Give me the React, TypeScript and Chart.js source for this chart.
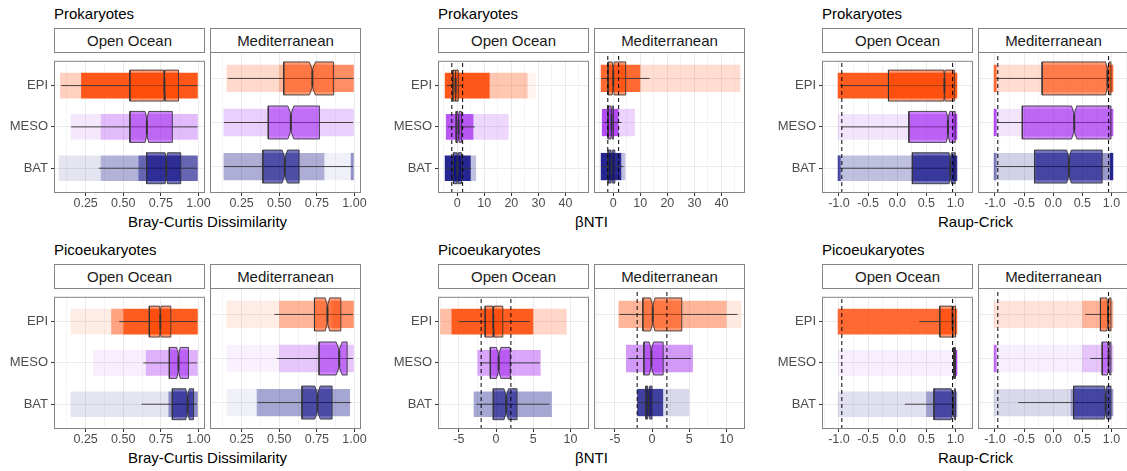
import React, { useEffect, useRef } from "react";
import { Chart, registerables } from "chart.js";
Chart.register(...registerables);

const FONT = "'Liberation Sans', Arial, Helvetica, sans-serif";

// ---------- categories ----------
const groups = ["EPI", "MESO", "BAT"];
const groupColors = ["#FF4500", "#A020F0", "#000080"];
const regions = ["Open Ocean", "Mediterranean"];
const taxa = ["Prokaryotes", "Picoeukaryotes"];
const metricTitles = ["Bray-Curtis Dissimilarity", "βNTI", "Raup-Crick"];

// ---------- axes ----------
const bcRange = [0.04, 1.043];
const bcTicks = [0.25, 0.5, 0.75, 1.0];
const bcTickLabels = ["0.25", "0.50", "0.75", "1.00"];
const bcMinor = [0.125, 0.375, 0.625, 0.875];

const ntiProkRange = [-7.1, 48.7];
const ntiProkTicks = [0, 10, 20, 30, 40];
const ntiProkTickLabels = ["0", "10", "20", "30", "40"];
const ntiProkMinor = [-5, 5, 15, 25, 35, 45];

const ntiPicoRange = [-7.8, 12.5];
const ntiPicoTicks = [-5, 0, 5, 10];
const ntiPicoTickLabels = ["-5", "0", "5", "10"];
const ntiPicoMinor = [-7.5, -2.5, 2.5, 7.5];

const rcRange = [-1.29, 1.3];
const rcTicks = [-1, -0.5, 0, 0.5, 1];
const rcTickLabels = ["-1.0", "-0.5", "0.0", "0.5", "1.0"];
const rcMinor = [-1.25, -0.75, -0.25, 0.25, 0.75, 1.25];

const ntiThresholds = [-2, 2];
const rcThresholds = [-0.95, 0.95];

// ---------- box statistics: [lowWhisker, q1, median, q3, highWhisker, notchHalf], rows EPI, MESO, BAT ----------
const boxProkBcOpen = [
  [0.088, 0.544, 0.773, 0.867, 0.994, 0.004],
  [0.154, 0.544, 0.657, 0.826, 0.994, 0.012],
  [0.337, 0.655, 0.786, 0.882, 0.994, 0.008],
];
const boxProkBcMed = [
  [0.159, 0.53, 0.72, 0.861, 0.994, 0.02],
  [0.134, 0.427, 0.577, 0.767, 0.99, 0.02],
  [0.134, 0.391, 0.537, 0.632, 0.99, 0.018],
];
const boxProkNtiOpen = [
  [-3.9, -1.6, -0.6, 0.4, 2.2, 0.08],
  [-3.5, -0.4, 0.5, 1.6, 6.5, 0.3],
  [-4.5, -1.4, 0.1, 1.6, 5.2, 0.2],
];
const boxProkNtiMed = [
  [-4.4, -1.9, 0.0, 4.6, 13.4, 0.4],
  [-3.6, -1.9, -0.6, 0.1, 3.1, 0.25],
  [-4.4, -1.9, -0.6, 0.6, 3.8, 0.25],
];
const boxProkRcOpen = [
  [-0.98, -0.15, 0.81, 0.98, 1.0, 0.01],
  [-0.95, 0.2, 0.87, 0.995, 1.0, 0.03],
  [-0.98, 0.26, 0.91, 0.995, 1.0, 0.02],
];
const boxProkRcMed = [
  [-0.98, -0.19, 0.93, 0.99, 1.0, 0.03],
  [-0.96, -0.53, 0.36, 0.99, 1.0, 0.045],
  [-0.98, -0.32, 0.27, 0.84, 1.0, 0.04],
];
const boxPicoBcOpen = [
  [0.473, 0.673, 0.746, 0.816, 0.99, 0.005],
  [0.633, 0.806, 0.867, 0.933, 0.99, 0.012],
  [0.622, 0.826, 0.927, 0.967, 0.99, 0.012],
];
const boxPicoBcMed = [
  [0.468, 0.734, 0.82, 0.909, 0.99, 0.015],
  [0.484, 0.764, 0.898, 0.951, 0.99, 0.02],
  [0.357, 0.651, 0.754, 0.851, 0.974, 0.018],
];
const boxPicoNtiOpen = [
  [-5.0, -1.46, -0.37, 0.91, 4.55, 0.08],
  [-2.2, -0.77, 0.36, 1.91, 5.87, 0.3],
  [-2.64, -0.37, 1.37, 2.83, 7.15, 0.3],
];
const boxPicoNtiMed = [
  [-4.41, -1.23, 0.1, 4.0, 11.5, 0.3],
  [-3.18, -1.09, -0.09, 1.5, 5.24, 0.3],
  [-2.0, -0.82, -0.45, 0.0, 1.15, 0.15],
];
const boxPicoRcOpen = [
  [0.38, 0.73, 0.95, 1.0, 1.0, 0.01],
  [0.97, 0.97, 0.99, 1.0, 1.0, 0.005],
  [0.13, 0.63, 0.955, 1.0, 1.0, 0.03],
];
const boxPicoRcMed = [
  [0.55, 0.81, 0.94, 0.99, 1.0, 0.02],
  [0.635, 0.84, 0.95, 0.99, 1.0, 0.02],
  [-0.6, 0.35, 0.9, 0.99, 1.0, 0.02],
];

// ---------- jittered point clouds as density bands: [from, to, density], per group ----------
const cloudProkBcOpen = [
  [[0.08, 0.22, 0.25], [0.22, 0.995, 0.9]],
  [[0.15, 0.35, 0.1], [0.35, 0.995, 0.3]],
  [[0.07, 0.35, 0.1], [0.35, 0.6, 0.3], [0.6, 0.995, 0.6]],
];
const cloudProkBcMed = [
  [[0.15, 0.5, 0.2], [0.5, 0.995, 0.4], [0.85, 0.995, 0.35]],
  [[0.13, 0.995, 0.22]],
  [[0.13, 0.8, 0.32], [0.8, 0.995, 0.06], [0.975, 0.995, 0.4]],
];
const cloudProkNtiOpen = [
  [[-4.6, 12, 0.9], [12, 26, 0.3], [26, 29, 0.06]],
  [[-4.2, 6, 0.75], [6, 19, 0.18]],
  [[-4.6, 5, 0.85], [5, 7, 0.25]],
];
const cloudProkNtiMed = [
  [[-4.6, 10, 0.8], [10, 47, 0.18]],
  [[-4.2, 2, 0.8], [2, 8, 0.2]],
  [[-4.6, 3, 0.85], [3, 4.5, 0.25]],
];
const cloudProkRcOpen = [
  [[-1.02, 1.03, 0.88]],
  [[-1.02, 0.2, 0.12], [0.2, 0.95, 0.35], [0.95, 1.03, 0.8]],
  [[-1.02, -0.97, 0.6], [-1.02, 0.25, 0.25], [0.25, 0.95, 0.5], [0.95, 1.03, 0.8]],
];
const cloudProkRcMed = [
  [[-1.02, -0.97, 0.8], [-0.97, -0.2, 0.18], [-0.2, 1.03, 0.35], [0.95, 1.03, 0.7]],
  [[-1.02, -0.97, 0.8], [-0.97, -0.5, 0.12], [-0.5, 1.03, 0.3], [0.97, 1.03, 0.6]],
  [[-1.02, -0.97, 0.5], [-0.97, -0.3, 0.18], [-0.3, 0.97, 0.4], [0.97, 1.03, 0.85]],
];
const cloudPicoBcOpen = [
  [[0.15, 0.42, 0.1], [0.42, 0.5, 0.5], [0.5, 0.995, 0.88]],
  [[0.3, 0.65, 0.08], [0.65, 0.995, 0.35]],
  [[0.15, 0.8, 0.1], [0.8, 0.995, 0.45]],
];
const cloudPicoBcMed = [
  [[0.15, 0.5, 0.1], [0.5, 0.995, 0.4], [0.85, 0.995, 0.3]],
  [[0.15, 0.5, 0.06], [0.5, 0.995, 0.25]],
  [[0.15, 0.35, 0.06], [0.35, 0.97, 0.35]],
];
const cloudPicoNtiOpen = [
  [[-7.5, -6, 0.35], [-6, 5, 0.88], [5, 9.5, 0.22]],
  [[-2.5, 6, 0.4]],
  [[-3, 7.5, 0.35]],
];
const cloudPicoNtiMed = [
  [[-4.5, 10, 0.4], [10, 12, 0.12]],
  [[-3.5, 5.5, 0.45]],
  [[-2, 1.5, 0.75], [1.5, 5, 0.15]],
];
const cloudPicoRcOpen = [
  [[-1.02, 1.03, 0.8]],
  [[-1.02, 1.03, 0.07], [0.97, 1.03, 0.8]],
  [[-1.02, 1.03, 0.12], [0.5, 1.03, 0.3]],
];
const cloudPicoRcMed = [
  [[-1.02, 1.03, 0.15], [0.5, 1.03, 0.3]],
  [[-1.02, -0.97, 0.6], [-1.02, 1.03, 0.07], [0.5, 1.03, 0.2]],
  [[-1.02, 0.3, 0.15], [0.3, 1.03, 0.4]],
];

// ---------- layout ----------
const colLefts = [54, 438, 822];
const rowPanelTops = [52, 288];
const PANEL_W = 151;
const PANEL_H = 141;
const FACET_STEP = 156;
const Y_MIN = 0.4;
const Y_MAX = 3.6;
const BOX_H = 0.375;
const CLOUD_H = 0.31;

type AxisCfg = {
  range: number[];
  ticks: number[];
  labels: string[];
  minor: number[];
  thresholds: number[];
};

const bcAxis: AxisCfg = { range: bcRange, ticks: bcTicks, labels: bcTickLabels, minor: bcMinor, thresholds: [] };
const ntiProkAxis: AxisCfg = { range: ntiProkRange, ticks: ntiProkTicks, labels: ntiProkTickLabels, minor: ntiProkMinor, thresholds: ntiThresholds };
const ntiPicoAxis: AxisCfg = { range: ntiPicoRange, ticks: ntiPicoTicks, labels: ntiPicoTickLabels, minor: ntiPicoMinor, thresholds: ntiThresholds };
const rcAxis: AxisCfg = { range: rcRange, ticks: rcTicks, labels: rcTickLabels, minor: rcMinor, thresholds: rcThresholds };

const panels = [
  { row: 0, col: 0, axis: bcAxis, boxes: [boxProkBcOpen, boxProkBcMed], clouds: [cloudProkBcOpen, cloudProkBcMed] },
  { row: 0, col: 1, axis: ntiProkAxis, boxes: [boxProkNtiOpen, boxProkNtiMed], clouds: [cloudProkNtiOpen, cloudProkNtiMed] },
  { row: 0, col: 2, axis: rcAxis, boxes: [boxProkRcOpen, boxProkRcMed], clouds: [cloudProkRcOpen, cloudProkRcMed] },
  { row: 1, col: 0, axis: bcAxis, boxes: [boxPicoBcOpen, boxPicoBcMed], clouds: [cloudPicoBcOpen, cloudPicoBcMed] },
  { row: 1, col: 1, axis: ntiPicoAxis, boxes: [boxPicoNtiOpen, boxPicoNtiMed], clouds: [cloudPicoNtiOpen, cloudPicoNtiMed] },
  { row: 1, col: 2, axis: rcAxis, boxes: [boxPicoRcOpen, boxPicoRcMed], clouds: [cloudPicoRcOpen, cloudPicoRcMed] },
];

function rgba(hex: string, a: number) {
  const n = parseInt(hex.slice(1), 16);
  return `rgba(${(n >> 16) & 255},${(n >> 8) & 255},${n & 255},${a})`;
}

function near(arr: number[], v: number) {
  return arr.findIndex((t) => Math.abs(t - v) < 1e-9);
}

function buildDatasets(axis: AxisCfg, box: number[][], cloud: number[][][]) {
  const ds: any[] = [];
  groups.forEach((g, i) => {
    const yc = groups.length - i;
    const col = groupColors[i];
    cloud[i].forEach(([a, b, d]) => {
      ds.push({
        label: g + " points",
        data: [
          { x: a, y: yc - CLOUD_H },
          { x: b, y: yc - CLOUD_H },
          { x: b, y: yc + CLOUD_H },
          { x: a, y: yc + CLOUD_H },
        ],
        showLine: true,
        fill: "shape",
        backgroundColor: rgba(col, d),
        borderColor: "rgba(0,0,0,0)",
        borderWidth: 0,
        pointRadius: 0,
        order: 5,
      });
    });
    const [lo, q1, med, q3, hi, nh] = box[i];
    ds.push({
      label: g + " whisker",
      data: [
        { x: lo, y: yc },
        { x: hi, y: yc },
      ],
      showLine: true,
      borderColor: "rgba(51,51,51,0.9)",
      borderWidth: 1,
      pointRadius: 0,
      order: 4,
    });
    const nl = Math.max(q1, med - nh);
    const nu = Math.min(q3, med + nh);
    ds.push({
      label: g + " box",
      data: [
        { x: q1, y: yc - BOX_H },
        { x: nl, y: yc - BOX_H },
        { x: med, y: yc - BOX_H / 2 },
        { x: nu, y: yc - BOX_H },
        { x: q3, y: yc - BOX_H },
        { x: q3, y: yc + BOX_H },
        { x: nu, y: yc + BOX_H },
        { x: med, y: yc + BOX_H / 2 },
        { x: nl, y: yc + BOX_H },
        { x: q1, y: yc + BOX_H },
        { x: q1, y: yc - BOX_H },
      ],
      showLine: true,
      fill: "shape",
      backgroundColor: rgba(col, 0.55),
      borderColor: "rgba(51,51,51,0.85)",
      borderWidth: 1,
      pointRadius: 0,
      order: 3,
    });
    ds.push({
      label: g + " median",
      data: [
        { x: med, y: yc - BOX_H / 2 },
        { x: med, y: yc + BOX_H / 2 },
      ],
      showLine: true,
      borderColor: "#333333",
      borderWidth: 2,
      pointRadius: 0,
      order: 2,
    });
  });
  axis.thresholds.forEach((t) => {
    ds.push({
      label: "threshold",
      data: [
        { x: t, y: Y_MIN },
        { x: t, y: Y_MAX },
      ],
      showLine: true,
      borderColor: "#000000",
      borderWidth: 1,
      borderDash: [4, 3],
      pointRadius: 0,
      order: 1,
    });
  });
  return ds;
}

const panelBorder = {
  id: "panelBorder",
  afterDraw(chart: any) {
    const { ctx, chartArea: a } = chart;
    ctx.save();
    ctx.strokeStyle = "#858585";
    ctx.lineWidth = 1;
    ctx.strokeRect(a.left + 0.5, a.top + 0.5, a.right - a.left - 1, a.bottom - a.top - 1);
    ctx.restore();
  },
};

type FacetProps = {
  left: number;
  top: number;
  showY: boolean;
  axis: AxisCfg;
  box: number[][];
  cloud: number[][][];
};

function Facet({ left, top, showY, axis, box, cloud }: FacetProps) {
  const ref = useRef<HTMLCanvasElement | null>(null);
  const L = showY ? 52 : 8;
  const yw = showY ? 46 : 0;
  const R = 16;
  const PT = 2;
  const XH = 20;
  const PB = 2;
  const W = L + PANEL_W + R;
  const H = PT + PANEL_H + XH + PB;

  useEffect(() => {
    if (!ref.current) return;
    const allTicks = [...axis.minor, ...axis.ticks].sort((a, b) => a - b);
    const chart = new Chart(ref.current, {
      type: "scatter",
      data: { datasets: buildDatasets(axis, box, cloud) },
      options: {
        animation: false,
        responsive: false,
        maintainAspectRatio: false,
        events: [],
        layout: { padding: { left: L - yw, right: R, top: PT, bottom: PB } },
        plugins: { legend: { display: false }, tooltip: { enabled: false }, title: { display: false } },
        scales: {
          x: {
            type: "linear",
            min: axis.range[0],
            max: axis.range[1],
            afterBuildTicks: (s: any) => {
              s.ticks = allTicks.map((v) => ({ value: v }));
            },
            afterFit: (s: any) => {
              s.height = XH;
            },
            ticks: {
              autoSkip: false,
              maxRotation: 0,
              minRotation: 0,
              padding: 1,
              color: "#4D4D4D",
              font: { family: FONT, size: 12.5, lineHeight: 1 },
              callback: (v: any) => {
                const k = near(axis.ticks, Number(v));
                return k >= 0 ? axis.labels[k] : "";
              },
            },
            grid: {
              color: (c: any) => (c.tick && near(axis.ticks, c.tick.value) >= 0 ? "#EBEBEB" : "#F4F4F4"),
              lineWidth: 1,
              drawTicks: true,
              tickLength: 3,
              tickWidth: 1,
              tickColor: (c: any) => (c.tick && near(axis.ticks, c.tick.value) >= 0 ? "#333333" : "rgba(0,0,0,0)"),
            },
            border: { display: false },
          },
          y: {
            type: "linear",
            min: Y_MIN,
            max: Y_MAX,
            afterBuildTicks: (s: any) => {
              s.ticks = [1, 2, 3].map((v) => ({ value: v }));
            },
            afterFit: (s: any) => {
              s.width = yw;
            },
            ticks: {
              display: showY,
              padding: 3,
              color: "#4D4D4D",
              font: { family: FONT, size: 13 },
              callback: (v: any) => groups[groups.length - Number(v)],
            },
            grid: {
              color: "#EBEBEB",
              lineWidth: 1,
              drawTicks: showY,
              tickLength: 3,
              tickWidth: 1,
              tickColor: "#333333",
            },
            border: { display: false },
          },
        },
      } as any,
      plugins: [panelBorder],
    });
    return () => chart.destroy();
  }, []);

  return (
    <canvas
      ref={ref}
      width={W}
      height={H}
      style={{ position: "absolute", left: left - L, top: top - PT, width: W, height: H }}
    />
  );
}

export default function App() {
  const items: any[] = [];
  panels.forEach((p, pi) => {
    const colLeft = colLefts[p.col];
    const panelTop = rowPanelTops[p.row];
    items.push(
      <div
        key={"title" + pi}
        style={{
          position: "absolute",
          left: colLeft,
          top: panelTop - 47,
          fontSize: 15,
          lineHeight: "17px",
          color: "#000",
          whiteSpace: "nowrap",
        }}
      >
        {taxa[p.row]}
      </div>
    );
    items.push(
      <div
        key={"xtitle" + pi}
        style={{
          position: "absolute",
          left: colLeft,
          width: FACET_STEP + PANEL_W,
          top: panelTop + 161,
          fontSize: 15,
          lineHeight: "17px",
          color: "#000",
          textAlign: "center",
          whiteSpace: "nowrap",
        }}
      >
        {metricTitles[p.col]}
      </div>
    );
    regions.forEach((r, ri) => {
      const left = colLeft + ri * FACET_STEP;
      items.push(
        <div
          key={"strip" + pi + "_" + ri}
          style={{
            position: "absolute",
            left,
            top: panelTop - 24,
            width: PANEL_W,
            height: 25,
            boxSizing: "border-box",
            border: "1px solid #858585",
            background: "#fff",
            color: "#1A1A1A",
            fontSize: 15,
            lineHeight: "23px",
            textAlign: "center",
            whiteSpace: "nowrap",
          }}
        >
          {r}
        </div>
      );
      items.push(
        <Facet
          key={"facet" + pi + "_" + ri}
          left={left}
          top={panelTop}
          showY={ri === 0}
          axis={p.axis}
          box={p.boxes[ri]}
          cloud={p.clouds[ri]}
        />
      );
    });
  });
  return (
    <div
      style={{
        position: "absolute",
        left: 0,
        top: 0,
        width: 1127,
        height: 471,
        overflow: "hidden",
        background: "#fff",
        fontFamily: FONT,
      }}
    >
      {items}
    </div>
  );
}
